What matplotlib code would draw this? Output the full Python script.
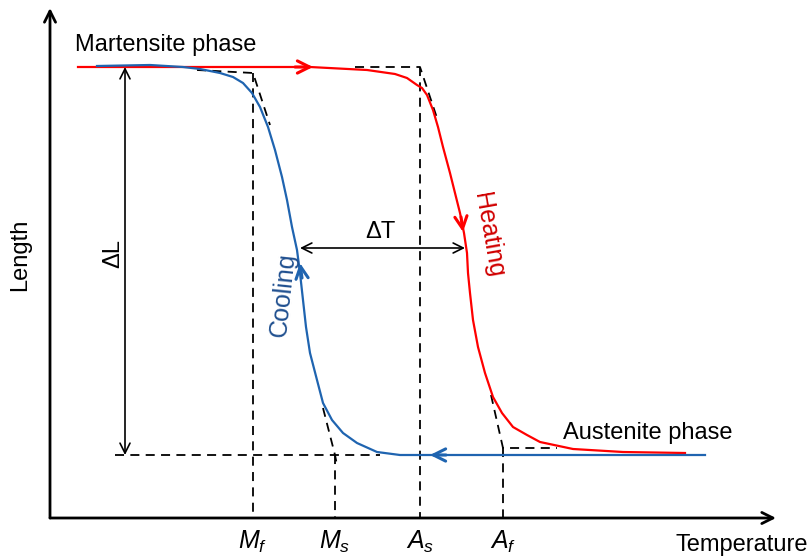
import numpy as np
import matplotlib.pyplot as plt

plt.rcParams['font.family'] = ['Liberation Sans', 'DejaVu Sans']
plt.rcParams['mathtext.fontset'] = 'custom'
plt.rcParams['mathtext.rm'] = 'Liberation Sans'
plt.rcParams['mathtext.it'] = 'Liberation Sans:italic'

# heating branch (temperature, length), arbitrary units
heat_T = np.array([28, 260, 317, 345, 357, 367, 372, 377, 383, 388, 393, 400, 405, 410, 414,
                   417, 418, 420, 423, 428, 435, 443, 452, 463, 477, 490, 523, 573, 635])
heat_L = np.array([451, 451, 448, 444, 440, 433, 430, 423, 408, 391, 371, 345, 325, 305, 285,
                   265, 245, 225, 198, 171, 145, 121, 105, 91, 83, 76, 69, 66, 65])

# cooling branch
cool_T = np.array([655, 350, 327, 307, 293, 282, 273, 267, 260, 256, 253, 250, 247, 242, 237,
                   232, 225, 218, 210, 202, 193, 183, 170, 150, 133, 100, 47])
cool_L = np.array([63, 63, 66, 75, 85, 98, 115, 138, 165, 191, 218, 245, 268, 291, 318,
                   341, 368, 391, 411, 425, 435, 441, 445, 449, 451, 453, 452])

# transformation temperatures
temps = {'M_f': 203, 'M_s': 285, 'A_s': 370, 'A_f': 453}
L_mart = 451
L_aus = 63

red = '#ff0000'
blue = '#1f64b0'

fig = plt.figure(figsize=(8.11, 5.6), dpi=100)
ax = fig.add_axes([0, 0, 1, 1])
ax.set_xlim(-50, 761)
ax.set_ylim(-42, 518)
ax.axis('off')

dash = dict(color='black', lw=1.3, linestyle=(0, (5, 3.5)))

# tangent constructions
ax.plot([147, temps['M_f'], 220], [448, 445, 393], **dash)
ax.plot([temps['M_f'], temps['M_f']], [445, 0], **dash)
ax.plot([273, temps['M_s'], 287], [110, L_aus, 53], **dash)
ax.plot([temps['M_s'], temps['M_s']], [L_aus, 0], **dash)
ax.plot([65, 330], [L_aus, L_aus], **dash)
ax.plot([305, temps['A_s'], 387], [L_mart, L_mart, 400], **dash)
ax.plot([temps['A_s'], temps['A_s']], [L_mart, 0], **dash)
ax.plot([441, temps['A_f'], 507], [123, 70, 70], **dash)
ax.plot([temps['A_f'], temps['A_f']], [70, 0], **dash)

ax.plot(heat_T, heat_L, color=red, lw=1.6, solid_joinstyle='round')
ax.plot(cool_T, cool_L, color=blue, lw=1.6, solid_joinstyle='round')

# direction arrows on the branches
def branch_arrow(tail, tip, color):
    ax.annotate('', xy=tip, xytext=tail,
                arrowprops=dict(arrowstyle='->', color=color, lw=2.2,
                                mutation_scale=22, shrinkA=0, shrinkB=0))

branch_arrow((245, L_mart), (263, L_mart), red)
branch_arrow((411, 301), (413, 286), red)
branch_arrow((396, L_aus), (380, L_aus), blue)
branch_arrow((252, 240), (250, 255), blue)

# axes with arrowheads
axis_kw = dict(arrowstyle='->', color='black', lw=2, mutation_scale=20, shrinkA=0, shrinkB=0)
ax.annotate('', xy=(0, 510), xytext=(0, 0), arrowprops=axis_kw)
ax.annotate('', xy=(726, 0), xytext=(0, 0), arrowprops=axis_kw)

# hysteresis width and length change
dim_kw = dict(arrowstyle='<->', color='black', lw=1.2, mutation_scale=18, shrinkA=0, shrinkB=0)
ax.annotate('', xy=(75, L_mart), xytext=(75, L_aus), arrowprops=dim_kw)
ax.annotate('', xy=(250, 270), xytext=(415, 270), arrowprops=dim_kw)
ax.text(63, 265, '\u0394L', fontsize=17, rotation=90, ha='center', va='center')
ax.text(330, 286, '\u0394T', fontsize=17, ha='center', va='center')

ax.text(25, 473, 'Martensite phase', fontsize=17, ha='left', va='center')
ax.text(513, 85, 'Austenite phase', fontsize=17, ha='left', va='center')
ax.text(438, 283, 'Heating', fontsize=18, color='#d00000', rotation=-80,
        ha='center', va='center', rotation_mode='anchor')
ax.text(233, 223, 'Cooling', fontsize=18, color='#1f4f8f', rotation=84,
        ha='center', va='center', rotation_mode='anchor')
ax.text(-30, 263, 'Length', fontsize=17, rotation=90, ha='center', va='center')
ax.text(692, -27, 'Temperature', fontsize=17, ha='center', va='center')

for name, T in temps.items():
    ax.text(T, -24, '$%s$' % name, fontsize=18, ha='center', va='center')

fig.savefig('out.png', dpi=100)
